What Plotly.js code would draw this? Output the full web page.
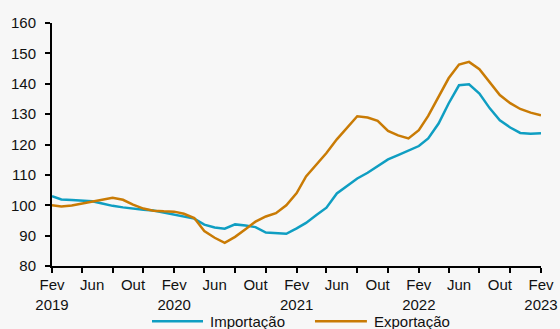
<!DOCTYPE html>
<html>
<head>
<meta charset="utf-8">
<script src="https://cdn.plot.ly/plotly-3.0.1.min.js"></script>
<style>html,body{margin:0;padding:0;background:#f7f7f7;}#chart{width:560px;height:329px;}</style>
</head>
<body>
<div id="chart"></div>
<script>
const months = [
  '2019-02-01','2019-03-01','2019-04-01','2019-05-01','2019-06-01','2019-07-01','2019-08-01','2019-09-01','2019-10-01','2019-11-01','2019-12-01','2020-01-01',
  '2020-02-01','2020-03-01','2020-04-01','2020-05-01','2020-06-01','2020-07-01','2020-08-01','2020-09-01','2020-10-01','2020-11-01','2020-12-01','2021-01-01',
  '2021-02-01','2021-03-01','2021-04-01','2021-05-01','2021-06-01','2021-07-01','2021-08-01','2021-09-01','2021-10-01','2021-11-01','2021-12-01','2022-01-01',
  '2022-02-01','2022-03-01','2022-04-01','2022-05-01','2022-06-01','2022-07-01','2022-08-01','2022-09-01','2022-10-01','2022-11-01','2022-12-01','2023-01-01',
  '2023-02-01'
];
const importacao = [
  103.0,101.9,101.7,101.6,101.3,100.6,99.8,99.3,98.8,98.5,98.3,97.6,
  96.8,96.2,95.6,93.6,92.7,92.3,93.7,93.3,92.8,91.0,90.7,90.6,
  92.4,94.2,96.8,99.2,103.9,106.3,108.8,110.7,112.9,115.1,116.5,118.0,
  119.5,122.0,126.9,133.5,139.5,139.8,136.8,131.9,128.0,125.6,123.8,123.5,
  123.7
];
const exportacao = [
  100.0,99.6,99.9,100.6,101.2,101.9,102.5,101.8,100.2,98.9,98.2,98.0,
  97.9,97.2,95.8,91.5,89.3,87.6,89.6,92.1,94.6,96.3,97.4,100.0,
  104.0,109.5,113.5,117.2,121.7,125.5,129.3,128.9,127.8,124.5,123.0,122.0,
  124.7,129.4,135.8,141.8,146.3,147.2,144.8,140.3,136.3,133.6,131.7,130.5,
  129.6
];
const seriesNames = ['Importação','Exportação'];
const seriesColors = ['#0f9ec2','#c97b05'];
const tickMonths = ['2019-02-01','2019-05-01','2019-08-01','2019-11-01','2020-02-01','2020-05-01','2020-08-01','2020-11-01',
  '2021-02-01','2021-05-01','2021-08-01','2021-11-01','2022-02-01','2022-05-01','2022-08-01','2022-11-01','2023-02-01'];
const labelMonths = ['2019-02-01','2019-06-01','2019-10-01','2020-02-01','2020-06-01','2020-10-01','2021-02-01','2021-06-01','2021-10-01',
  '2022-02-01','2022-06-01','2022-10-01','2023-02-01'];
const labelText = ['Fev<br>2019','Jun','Out','Fev<br>2020','Jun','Out','Fev<br>2021','Jun','Out','Fev<br>2022','Jun','Out','Fev<br>2023'];
const yTicks = [80,90,100,110,120,130,140,150,160];

const font = {family:'"Liberation Sans", Arial, sans-serif', size:15, color:'#111'};
const xr = ['2019-02-01','2023-02-01'];

const traces = [
  {x: months, y: importacao, name: seriesNames[0], type:'scatter', mode:'lines', xaxis:'x', yaxis:'y',
   line:{color:seriesColors[0], width:2.5}},
  {x: months, y: exportacao, name: seriesNames[1], type:'scatter', mode:'lines', xaxis:'x2', yaxis:'y',
   line:{color:seriesColors[1], width:2.5}}
];

// manual legend placement (paper coords relative to plot area 52..541 x, 23..266 y)
const legX = [[0.2045,0.3088,0.319],[0.5378,0.644,0.654]];
const legY = -0.227;
const shapes = [], annotations = [];
seriesNames.forEach((n,i)=>{
  shapes.push({type:'line', xref:'paper', yref:'paper', x0:legX[i][0], x1:legX[i][1], y0:legY, y1:legY,
               line:{color:seriesColors[i], width:2.5}});
  annotations.push({xref:'paper', yref:'paper', x:legX[i][2], y:legY, xanchor:'left', yanchor:'middle',
                    text:n, showarrow:false, font:font});
});

const layout = {
  width:560, height:329,
  margin:{l:52, r:19, t:23, b:63, autoexpand:false},
  paper_bgcolor:'#f7f7f7', plot_bgcolor:'rgba(0,0,0,0)',
  font: font,
  showlegend:false,
  shapes: shapes,
  annotations: annotations,
  xaxis:{type:'date', range:xr, tickmode:'array', tickvals:tickMonths, showticklabels:false, automargin:false,
         ticks:'outside', ticklen:5, tickwidth:2, tickcolor:'#000', showline:true, linewidth:2, linecolor:'#000',
         showgrid:false, zeroline:false, fixedrange:true},
  xaxis2:{type:'date', range:xr, overlaying:'x', anchor:'y', side:'bottom', tickmode:'array', tickvals:labelMonths, ticktext:labelText,
          ticks:'', showline:false, showgrid:false, zeroline:false, tickfont:font, ticklabelstandoff:8, automargin:false},
  yaxis:{range:[80,160], tickmode:'array', tickvals:yTicks, ticks:'outside', ticklen:5, tickwidth:2, tickcolor:'#000', automargin:false,
         showline:true, linewidth:2, linecolor:'#000', showgrid:false, zeroline:false, tickfont:font, ticklabelstandoff:6}
};

Plotly.newPlot('chart', traces, layout, {displayModeBar:false, staticPlot:true});
</script>
</body>
</html>
